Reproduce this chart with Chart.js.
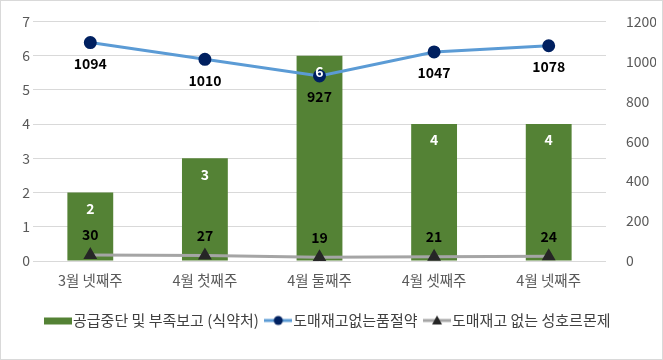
<!DOCTYPE html>
<html>
<head>
<meta charset="utf-8">
<script src="https://cdn.jsdelivr.net/npm/chart.js@4"></script>
<style>
  html, body { margin: 0; padding: 0; background: #fff; }
  #wrap { width: 661px; height: 358px; border: 1px solid #d9d9d9; }
</style>
</head>
<body>
<div id="wrap"><canvas id="chart" width="661" height="358"></canvas></div>
<script>
// data
const weeks = ['3월 넷째주', '4월 첫째주', '4월 둘째주', '4월 셋째주', '4월 넷째주'];
const supplyStop = [2, 3, 6, 4, 4];
const noStockOut = [1094, 1010, 927, 1047, 1078];
const noStockPref = [30, 27, 19, 21, 24];

const FONT = "'Noto Sans CJK KR', 'Noto Sans', sans-serif";

// small legend markers, excel style
function legendIcon(kind) {
    const c = document.createElement('canvas');
    c.width = 28; c.height = 12;
    const g = c.getContext('2d');
    if (kind === 'bar') {
        g.fillStyle = '#548235';
        g.fillRect(0, 3, 28, 7);
        return c;
    }
    g.strokeStyle = kind === 'circle' ? '#5B9BD5' : '#A5A5A5';
    g.lineWidth = 3;
    g.beginPath(); g.moveTo(0, 6); g.lineTo(28, 6); g.stroke();
    g.fillStyle = kind === 'circle' ? '#002060' : '#262626';
    g.beginPath();
    if (kind === 'circle') {
        g.arc(14, 6, 4.5, 0, Math.PI * 2);
    } else {
        g.moveTo(14, 1); g.lineTo(19, 10); g.lineTo(9, 10); g.closePath();
    }
    g.fill();
    return c;
}

// draws value labels like excel's data labels
const valueLabels = {
    id: 'valueLabels',
    afterDatasetsDraw(chart) {
        const ctx = chart.ctx;
        ctx.save();
        ctx.font = 'bold 14px ' + FONT;
        ctx.textAlign = 'center';
        ctx.textBaseline = 'middle';
        chart.data.datasets.forEach((ds, i) => {
            const meta = chart.getDatasetMeta(i);
            meta.data.forEach((el, j) => {
                const v = ds.data[j];
                if (ds.type === 'bar') {
                    ctx.fillStyle = '#ffffff';
                    ctx.fillText(v, el.x, el.y + 16);
                } else if (i === 1) {
                    ctx.fillStyle = '#000000';
                    ctx.fillText(v, el.x, el.y + 21);
                } else {
                    ctx.fillStyle = '#000000';
                    ctx.fillText(v, el.x, el.y - 20);
                }
            });
        });
        ctx.restore();
    }
};

const icons = [legendIcon('bar'), legendIcon('circle'), legendIcon('triangle')];

new Chart(document.getElementById('chart'), {
    data: {
        labels: weeks,
        datasets: [
            {
                type: 'bar',
                label: '공급중단 및 부족보고 (식약처)',
                data: supplyStop,
                backgroundColor: '#548235',
                yAxisID: 'y',
                barPercentage: 0.8,
                categoryPercentage: 0.5,
                order: 3
            },
            {
                type: 'line',
                label: '도매재고없는품절약',
                data: noStockOut,
                borderColor: '#5B9BD5',
                pointBackgroundColor: '#002060',
                pointBorderColor: '#002060',
                pointRadius: 5,
                borderWidth: 3,
                yAxisID: 'y1',
                order: 1
            },
            {
                type: 'line',
                label: '도매재고 없는 성호르몬제',
                data: noStockPref,
                borderColor: '#A5A5A5',
                pointBackgroundColor: '#262626',
                pointBorderColor: '#262626',
                pointStyle: 'triangle',
                pointRadius: 5,
                borderWidth: 3,
                yAxisID: 'y1',
                order: 2
            }
        ]
    },
    options: {
        responsive: false,
        animation: false,
        layout: { padding: { top: 1, left: 4, right: 6, bottom: 21 } },
        scales: {
            x: {
                grid: { display: false },
                border: { display: false },
                ticks: { color: '#595959', font: { family: FONT, size: 14.5 } },
                afterFit(s) { s.height = 40; }
            },
            y: {
                position: 'left',
                min: 0, max: 7,
                ticks: { stepSize: 1, color: '#595959', font: { family: FONT, size: 14 } },
                grid: { color: '#d9d9d9', drawTicks: false },
                border: { display: false },
                afterFit(s) { s.width = 28; }
            },
            y1: {
                position: 'right',
                min: 0, max: 1200,
                ticks: {
                    stepSize: 200, color: '#595959', font: { family: FONT, size: 14 }, padding: 12,
                    callback: v => String(v)
                },
                grid: { display: false },
                border: { display: false },
                afterFit(s) { s.width = 50; }
            }
        },
        plugins: {
            legend: {
                position: 'bottom',
                labels: {
                    color: '#404040',
                    font: { family: FONT, size: 15 },
                    usePointStyle: true,
                    padding: 12,
                    generateLabels(chart) {
                        return chart.data.datasets.map((ds, i) => ({
                            text: ds.label,
                            pointStyle: icons[i],
                            fillStyle: 'transparent',
                            strokeStyle: 'transparent',
                            lineWidth: 0,
                            fontColor: '#404040',
                            datasetIndex: i
                        }));
                    }
                }
            },
            tooltip: { enabled: false }
        }
    },
    plugins: [valueLabels]
});
</script>
</body>
</html>
